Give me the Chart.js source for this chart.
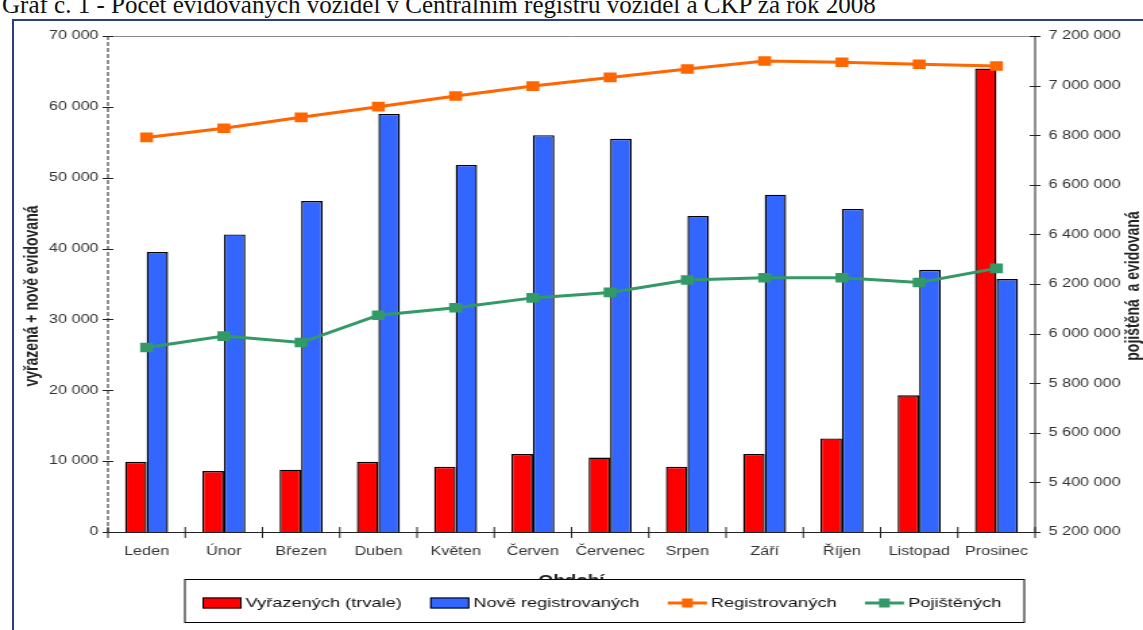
<!DOCTYPE html>
<html>
<head>
<meta charset="utf-8">
<script src="https://cdn.jsdelivr.net/npm/chart.js@4.4.1/dist/chart.umd.min.js"></script>
<style>
  html, body { margin: 0; padding: 0; background: #fff; width: 1143px; height: 630px; overflow: hidden; position: relative; }
  #caption { position: absolute; left: 2px; top: -8px; font: 25px "Liberation Serif", "Times New Roman", serif; line-height: 1; white-space: nowrap; color: #111; }
  #frame { position: absolute; left: 12px; top: 19px; width: 1200px; height: 700px; border: 2px solid #2a3f86; box-sizing: border-box; }
  /* the chart is laid out narrow and widened horizontally */
  #wrap { position: absolute; left: 0; top: 0; width: 847px; height: 630px; transform: scaleX(1.3495); transform-origin: 0 0; }
</style>
</head>
<body>
<div id="caption">Graf č. 1 - Počet evidovaných vozidel v Centrálním registru vozidel a ČKP za rok 2008</div>
<div id="frame"></div>
<div id="wrap"><canvas id="c" width="847" height="630"></canvas></div>
<script>
// Months of 2008
const months = ['Leden', 'Únor', 'Březen', 'Duben', 'Květen', 'Červen', 'Červenec', 'Srpen', 'Září', 'Říjen', 'Listopad', 'Prosinec'];

// Left axis series (vehicles per month)
const vyrazenych = [9900, 8600, 8800, 9900, 9200, 11000, 10500, 9200, 11000, 13200, 19300, 65400];
const noveRegistrovanych = [39500, 42000, 46700, 59000, 51800, 56000, 55500, 44600, 47600, 45600, 37000, 35700];

// Right axis series (vehicles in register / insured)
const registrovanych = [6791000, 6828000, 6872000, 6915000, 6958000, 6998000, 7033000, 7067000, 7099000, 7094000, 7086000, 7079000];
const pojistenych = [5944000, 5990000, 5964000, 6074000, 6104000, 6144000, 6166000, 6216000, 6225000, 6225000, 6206000, 6263000];

// Axis tick values
const leftTicks = [0, 10000, 20000, 30000, 40000, 50000, 60000, 70000];
const rightTicks = [5200000, 5400000, 5600000, 5800000, 6000000, 6200000, 6400000, 6600000, 6800000, 7000000, 7200000];

const leftTitle = 'vyřazená + nově evidovaná';
const rightTitle = 'pojištěná  a evidovaná';
const xTitle = 'Období';

const FONT = '"Liberation Sans", Arial, sans-serif';
const fmt = v => String(v).replace(/\B(?=(\d{3})+(?!\d))/g, ' ');

const tickFont = { family: FONT, size: 12 };
const tickColor = '#333';

function line(ctx, x1, y1, x2, y2) {
  ctx.beginPath(); ctx.moveTo(x1, y1); ctx.lineTo(x2, y2); ctx.stroke();
}

const decor = {
  id: 'decor',
  afterDatasetsDraw(chart) {
    const { ctx, chartArea: a, scales: { x, y, y1 } } = chart;
    ctx.save();
    ctx.lineWidth = 1;
    // plot top edge
    ctx.strokeStyle = '#8a8a8a';
    line(ctx, a.left, a.top + 0.5, a.right, a.top + 0.5);
    // left axis (dashed)
    ctx.strokeStyle = '#222';
    ctx.setLineDash([4, 2]);
    line(ctx, a.left, a.top, a.left, a.bottom);
    ctx.setLineDash([]);
    // right axis and category axis
    line(ctx, a.right, a.top, a.right, a.bottom + 0.5);
    line(ctx, a.left, a.bottom + 0.5, a.right, a.bottom + 0.5);
    // crossing tick marks
    y.ticks.forEach(t => {
      const py = Math.round(y.getPixelForValue(t.value)) + 0.5;
      line(ctx, a.left - 4, py, a.left + 4, py);
    });
    y1.ticks.forEach(t => {
      const py = Math.round(y1.getPixelForValue(t.value)) + 0.5;
      line(ctx, a.right - 4, py, a.right + 4, py);
    });
    const n = chart.data.labels.length;
    for (let i = 0; i <= n; i++) {
      let bx;
      if (i === 0) bx = a.left;
      else if (i === n) bx = a.right;
      else bx = (x.getPixelForValue(i - 1) + x.getPixelForValue(i)) / 2;
      line(ctx, bx, a.bottom - 5, bx, a.bottom + 6);
    }
    ctx.restore();
  },
  afterDraw(chart) {
    const { ctx, chartArea: a } = chart;
    ctx.save();
    ctx.fillStyle = '#222';
    ctx.font = 'bold 14px ' + FONT;
    ctx.textAlign = 'center';
    ctx.textBaseline = 'middle';
    // axis titles
    ctx.save();
    ctx.translate(24, 296);
    ctx.rotate(-Math.PI / 2);
    ctx.fillText(leftTitle, 0, 0);
    ctx.restore();
    ctx.save();
    ctx.translate(840, 286);
    ctx.rotate(-Math.PI / 2);
    ctx.fillText(rightTitle, 0, 0);
    ctx.restore();
    ctx.textBaseline = 'top';
    ctx.fillText(xTitle, (a.left + a.right) / 2, 574);

    // legend box
    const bx1 = 137, bx2 = 759, by1 = 579.5, by2 = 622.5, cy = 603;
    ctx.fillStyle = '#fff';
    ctx.fillRect(bx1, by1, bx2 - bx1, by2 - by1);
    ctx.strokeStyle = '#000';
    ctx.lineWidth = 1;
    ctx.strokeRect(bx1, by1, bx2 - bx1, by2 - by1);

    ctx.font = '13.5px ' + FONT;
    ctx.textAlign = 'left';
    ctx.textBaseline = 'middle';
    let lx = 150;
    chart.data.datasets.forEach(ds => {
      const sw = 29;
      if (ds.type === 'bar') {
        ctx.fillStyle = ds.backgroundColor;
        ctx.fillRect(lx, cy - 5.5, sw, 11);
        ctx.strokeStyle = '#000';
        ctx.lineWidth = 1;
        ctx.strokeRect(lx + 0.5, cy - 5, sw - 1, 10);
      } else {
        ctx.strokeStyle = ds.borderColor;
        ctx.lineWidth = 3;
        line(ctx, lx, cy, lx + sw, cy);
        ctx.fillStyle = ds.borderColor;
        ctx.fillRect(lx + sw / 2 - 4, cy - 4.5, 8, 9);
      }
      ctx.fillStyle = '#111';
      ctx.fillText(ds.label, lx + sw + 3, cy);
      lx += sw + 3 + ctx.measureText(ds.label).width + 21;
    });
    ctx.restore();
  }
};

new Chart(document.getElementById('c'), {
  data: {
    labels: months,
    datasets: [
      { type: 'bar', label: 'Vyřazených (trvale)', data: vyrazenych, backgroundColor: '#ff0000', borderColor: '#000', borderWidth: 1.4, yAxisID: 'y', order: 2, categoryPercentage: 0.557, barPercentage: 1 },
      { type: 'bar', label: 'Nově registrovaných', data: noveRegistrovanych, backgroundColor: '#3366ff', borderColor: '#000', borderWidth: 1.4, yAxisID: 'y', order: 2, categoryPercentage: 0.557, barPercentage: 1 },
      { type: 'line', label: 'Registrovaných', data: registrovanych, borderColor: '#ff6600', backgroundColor: '#ff6600', borderWidth: 3, pointStyle: 'rect', pointRadius: 6.8, pointBorderWidth: 0, yAxisID: 'y1', order: 1, tension: 0 },
      { type: 'line', label: 'Pojištěných', data: pojistenych, borderColor: '#339966', backgroundColor: '#339966', borderWidth: 3, pointStyle: 'rect', pointRadius: 6.8, pointBorderWidth: 0, yAxisID: 'y1', order: 1, tension: 0 }
    ]
  },
  options: {
    responsive: false,
    animation: false,
    devicePixelRatio: 1,
    layout: { padding: { top: 36, left: 0, right: 0, bottom: 0 } },
    plugins: { legend: { display: false }, tooltip: { enabled: false }, title: { display: false } },
    scales: {
      x: {
        offset: true,
        grid: { display: false, drawTicks: false },
        border: { display: false },
        ticks: { font: tickFont, color: tickColor, padding: 12, maxRotation: 0, autoSkip: false },
        afterFit(sc) { sc.height = 98; }
      },
      y: {
        position: 'left',
        min: leftTicks[0],
        max: leftTicks[leftTicks.length - 1],
        afterBuildTicks(sc) { sc.ticks = leftTicks.map(v => ({ value: v })); },
        grid: { display: false, drawTicks: false },
        border: { display: false },
        ticks: { font: tickFont, color: tickColor, padding: 7, callback: v => fmt(v) },
        afterFit(sc) { sc.width = 80; }
      },
      y1: {
        position: 'right',
        min: rightTicks[0],
        max: rightTicks[rightTicks.length - 1],
        afterBuildTicks(sc) { sc.ticks = rightTicks.map(v => ({ value: v })); },
        grid: { display: false, drawTicks: false },
        border: { display: false },
        ticks: { font: tickFont, color: tickColor, padding: 10, callback: v => fmt(v) },
        afterFit(sc) { sc.width = 80; }
      }
    }
  },
  plugins: [decor]
});
</script>
</body>
</html>
